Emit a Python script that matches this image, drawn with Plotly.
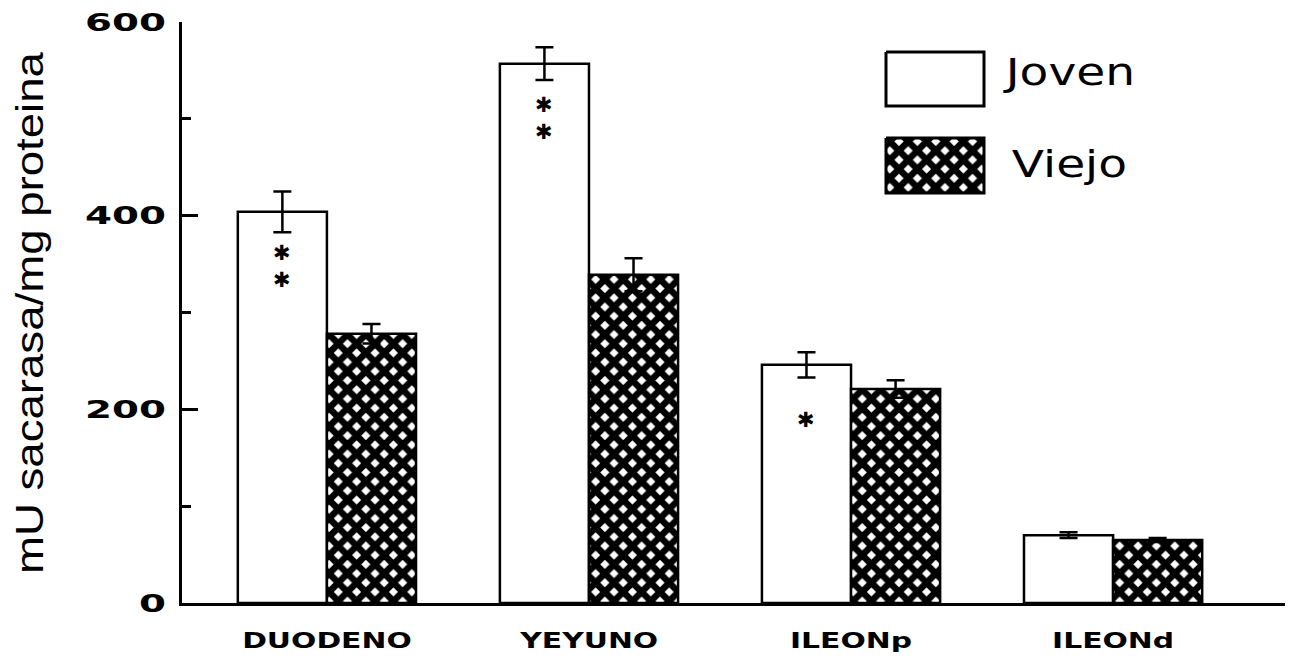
import numpy as np
import plotly.graph_objects as go

# Sucrase activity by intestinal segment, young vs old
categories = ["DUODENO", "YEYUNO", "ILEONp", "ILEONd"]
series_names = ["Joven", "Viejo"]
joven = [404, 557, 246, 70]
joven_err = [21, 17, 13, 3]
viejo = [278, 339, 221, 65]
viejo_err = [10, 17, 9, 2]
significance = ["✱<br>✱", "✱<br>✱", "✱", ""]
y_ticks = [0, 200, 400, 600]
y_title = "mU sacarasa/mg proteina"

# ---- layout constants (pixels) ----
W, H = 1295, 658
M_L, M_R, M_T, M_B = 182, 10, 22, 55
BAR_W = 0.34
X_RANGE = [-0.553, 3.656]
TICK_FONT = "DejaVu Sans"
TITLE_FONT = "Liberation Sans"

hatch = dict(shape="x", fgcolor="black", bgcolor="white",
             size=13, solidity=0.76, fillmode="replace")
outline = dict(color="black", width=2.5)
pos = np.arange(len(categories))

fig = go.Figure()
fig.add_bar(
    x=pos - BAR_W / 2, y=joven, width=BAR_W, name=series_names[0],
    marker=dict(color="white", line=outline),
    error_y=dict(type="data", array=joven_err, color="black",
                 thickness=2.5, width=9),
    showlegend=False,
)
fig.add_bar(
    x=pos + BAR_W / 2, y=viejo, width=BAR_W, name=series_names[1],
    marker=dict(color="white", line=outline, pattern=hatch),
    error_y=dict(type="data", array=viejo_err, color="black",
                 thickness=2.5, width=9),
    showlegend=False,
)

# significance marks inside the young bars
for i, mark in enumerate(significance):
    if mark:
        fig.add_annotation(
            x=pos[i] - BAR_W / 2, y=joven[i], yshift=-55,
            text=mark, showarrow=False, yanchor="middle",
            font=dict(family="DejaVu Sans", size=21, color="black",
                      weight="bold"),
        )

# key: large swatches drawn on a pixel-scaled overlay
PX_X = [M_L, W - M_R]
PX_Y = [H - M_B, M_T]
KEY_X0, KEY_X1 = 886, 984
KEY_ROWS = [(52, 106), (138, 193)]
KEY_TEXT_X = 1069
KEY_TEXT_Y = [72, 164]
for k, (y0, y1) in enumerate(KEY_ROWS):
    style = dict(fillcolor="white")
    if k == 1:
        style["fillpattern"] = hatch
    fig.add_scatter(
        x=[KEY_X0, KEY_X1, KEY_X1, KEY_X0, KEY_X0],
        y=[y0, y0, y1, y1, y0],
        xaxis="x2", yaxis="y2", mode="lines", fill="toself",
        line=dict(color="black", width=3), showlegend=False,
        hoverinfo="skip", **style,
    )
    fig.add_annotation(
        x=KEY_TEXT_X, y=KEY_TEXT_Y[k], xref="x2", yref="y2",
        text=series_names[k], showarrow=False,
        xanchor="center", yanchor="middle",
        font=dict(family=TICK_FONT, size=38, color="black"),
    )

fig.add_annotation(
    x=(30 - M_L) / (W - M_L - M_R), y=0.5, xref="paper", yref="paper",
    text=y_title, textangle=-90, showarrow=False,
    xanchor="center", yanchor="middle",
    font=dict(family=TITLE_FONT, size=38, color="black"),
)

fig.update_layout(
    template="none",
    width=W, height=H,
    margin=dict(l=M_L, r=M_R, t=M_T, b=M_B, pad=0),
    paper_bgcolor="white", plot_bgcolor="white",
    barmode="overlay",
    xaxis=dict(
        range=X_RANGE, tickmode="array", tickvals=pos, ticktext=categories,
        showgrid=False, zeroline=False, showline=True, linecolor="black",
        linewidth=3, ticks="", ticklabelstandoff=17, automargin=False,
        tickfont=dict(family=TICK_FONT, size=21, color="black",
                      weight="bold"),
    ),
    yaxis=dict(
        range=[0, 600], tickmode="array", tickvals=y_ticks,
        showgrid=False, zeroline=False, showline=True, linecolor="black",
        linewidth=3, ticks="inside", ticklen=16, tickwidth=3,
        tickcolor="black", ticklabelstandoff=8, automargin=False,
        minor=dict(dtick=100, ticks="inside", ticklen=9, tickwidth=2.5,
                   tickcolor="black", showgrid=False),
        tickfont=dict(family=TICK_FONT, size=25, color="black",
                      weight="bold"),
    ),
    xaxis2=dict(range=PX_X, overlaying="x", anchor="y2", visible=False,
                fixedrange=True, automargin=False),
    yaxis2=dict(range=PX_Y, overlaying="y", anchor="x2", visible=False,
                fixedrange=True, automargin=False),
)

# widen the lettering horizontally (extended typeface look),
# scaling each label about its own anchor point
STRETCH_JS = """
var gd = document.getElementById('{plot_id}');
function widen(sel, f, only) {
  gd.querySelectorAll(sel).forEach(function (t) {
    if (only && only.indexOf(t.textContent) < 0) return;
    var b = t.getBBox();
    if (!b.width) return;
    var anchor = t.getAttribute('text-anchor') ||
                 window.getComputedStyle(t).textAnchor || 'start';
    var cx = b.x;
    if (anchor === 'middle') cx = b.x + b.width / 2;
    else if (anchor === 'end') cx = b.x + b.width;
    var tr = t.getAttribute('transform') || '';
    t.setAttribute('transform', tr + ' translate(' + cx + ',0) scale(' +
                   f + ',1) translate(' + (-cx) + ',0)');
  });
}
widen('.xtick text', 1.42);
widen('.ytick text', 1.55);
widen('.annotation-text', 1.24, ['Joven', 'Viejo']);
widen('.annotation-text', 1.2, ['mU sacarasa/mg proteina']);
"""

fig.write_html("out.html", post_script=STRETCH_JS,
               config={"displayModeBar": False})
